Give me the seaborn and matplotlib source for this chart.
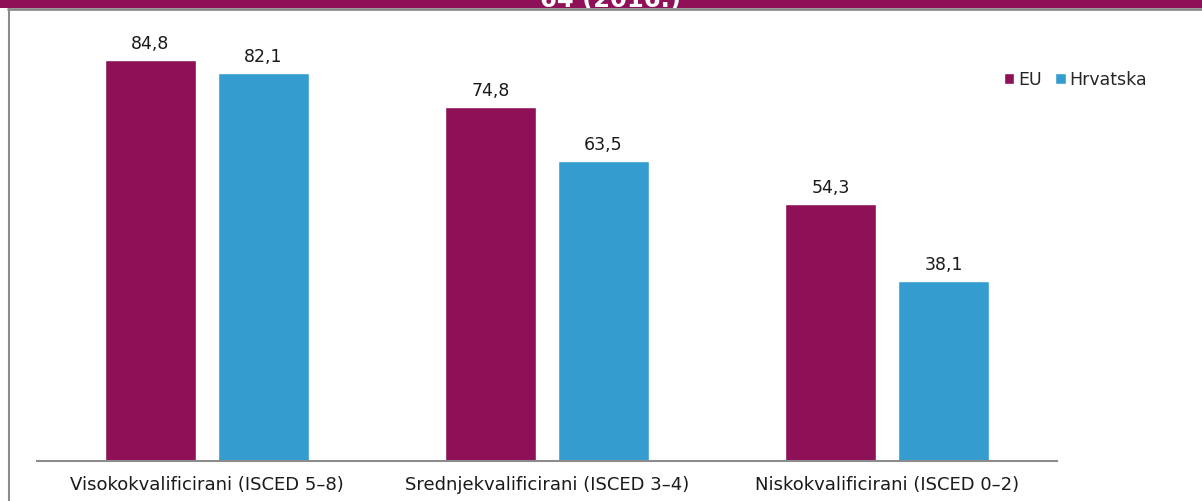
import matplotlib
matplotlib.use("Agg")
import matplotlib.pyplot as plt
import seaborn as sns
import pandas as pd
from matplotlib.patches import Rectangle
from matplotlib.lines import Line2D
from matplotlib.transforms import Bbox, TransformedBbox

# stopa zaposlenosti prema razini obrazovanja
categories = ["Visokokvalificirani (ISCED 5–8)",
              "Srednjekvalificirani (ISCED 3–4)",
              "Niskokvalificirani (ISCED 0–2)"]
eu_values = [84.8, 74.8, 54.3]
hr_values = [82.1, 63.5, 38.1]
series = ["EU", "Hrvatska"]
title_tail = "64 (2016.)"

df = pd.DataFrame({
    "kategorija": categories * 2,
    "vrijednost": eu_values + hr_values,
    "serija": [series[0]] * 3 + [series[1]] * 3,
})

sns.set_theme(style="white")
plt.rcParams["font.family"] = ["DejaVu Sans"]

fig = plt.figure(figsize=(12.02, 5.01), dpi=100)
W, H = 1202, 501

# banner i okvir
banner = Rectangle((0, 1 - 8 / H), 1, 8 / H, transform=fig.transFigure,
                   facecolor="#8E1057", edgecolor="none", zorder=0)
fig.patches.append(banner)
t = fig.text(611 / W, 1 - 6.5 / H, title_tail, ha="center", va="baseline",
             color="white", fontsize=17.5, fontweight="bold")
t.set_clip_box(TransformedBbox(Bbox([[0, 1 - 8 / H], [1, 1]]), fig.transFigure))
t.set_clip_on(True)
fig.lines.append(Line2D([8 / W, 1], [1 - 9 / H, 1 - 9 / H], transform=fig.transFigure,
                        color="#8C8C8C", lw=2))
fig.lines.append(Line2D([9 / W, 9 / W], [0, 1 - 9 / H], transform=fig.transFigure,
                        color="#8C8C8C", lw=1.5))

ax = fig.add_axes([37 / W, 40 / H, 1020 / W, 425.6 / H])
sns.barplot(data=df, x="kategorija", y="vrijednost", hue="serija",
            palette=["#8E1057", "#359CCF"], width=0.665, gap=0.2,
            saturation=1, ax=ax, errorbar=None)
ax.set_ylim(0, 90)
ax.set_xlim(-0.5, 2.5)

for c in ax.containers:
    ax.bar_label(c, labels=[f"{v:.1f}".replace(".", ",") for v in c.datavalues],
                 padding=5, fontsize=12.5, color="#1a1a1a")

ax.set_xlabel("")
ax.set_ylabel("")
ax.set_yticks([])
ax.tick_params(axis="x", length=0, pad=11, labelsize=13, labelcolor="#1a1a1a")
for s in ["top", "right", "left"]:
    ax.spines[s].set_visible(False)
ax.spines["bottom"].set_color("#8C8C8C")
ax.spines["bottom"].set_linewidth(1.5)

ax.legend(loc="center left", bbox_to_anchor=(960 / 1020, (501 - 40 - 80) / 425.6),
          ncol=2, frameon=False, fontsize=12.5, handlelength=0.6, handleheight=0.6,
          handletextpad=0.2, columnspacing=0.8, borderaxespad=0)

fig.savefig("out.png", dpi=100)
